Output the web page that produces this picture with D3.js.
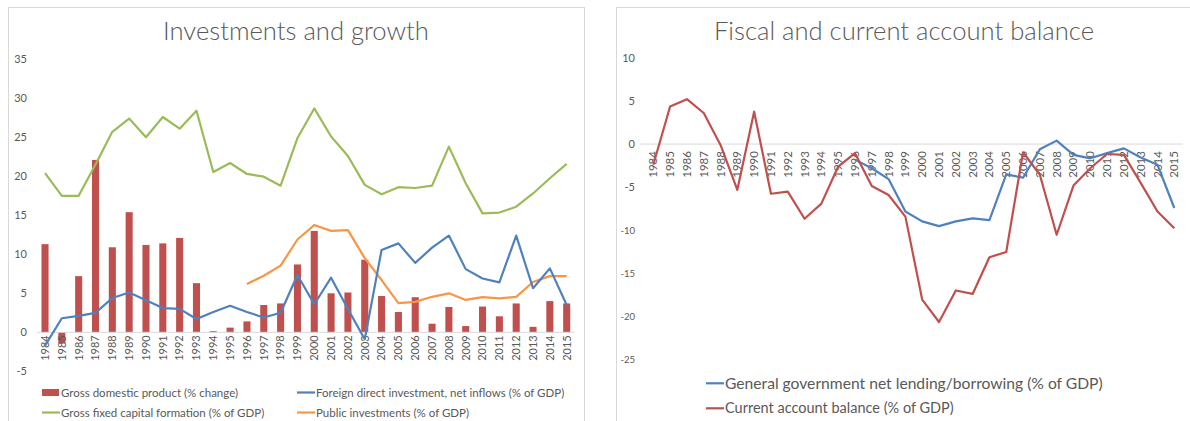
<!DOCTYPE html>
<html>
<head>
<meta charset="utf-8">
<script src="https://cdn.jsdelivr.net/npm/d3@7"></script>
<style>
  html, body { margin: 0; padding: 0; background: #fff; }
  svg { display: block; }
  text { font-family: Lato, "Open Sans", sans-serif; fill: #595959; }
  .title { font-weight: 300; }
</style>
</head>
<body>
<svg id="chart" width="1190" height="421"></svg>
<script>
// ---- data ----
const years = d3.range(1984, 2016).map(String);

const gdpGrowth = [11.3, -1.4, 7.2, 22.1, 10.9, 15.4, 11.2, 11.4, 12.1, 6.3,
  0.15, 0.6, 1.4, 3.5, 3.7, 8.7, 13.0, 5.0, 5.1, 9.3,
  4.65, 2.6, 4.5, 1.1, 3.25, 0.8, 3.3, 2.05, 3.7, 0.7, 4.0, 3.7];

const fdiInflows = [-1.7, 1.8, 2.1, 2.5, 4.4, 5.1, 4.1, 3.1, 3.0, 1.7,
  2.6, 3.4, 2.6, 1.9, 2.5, 7.35, 3.6, 7.0, 3.0, -0.9,
  10.55, 11.4, 8.9, 10.85, 12.4, 8.1, 6.9, 6.4, 12.4, 5.65, 8.2, 3.5];

const grossFixedCapital = [20.4, 17.5, 17.5, 21.5, 25.7, 27.4, 25.0, 27.6, 26.1, 28.4,
  20.55, 21.7, 20.3, 19.95, 18.8, 24.9, 28.7, 25.1, 22.6, 18.9,
  17.7, 18.6, 18.5, 18.8, 23.8, 19.1, 15.25, 15.35, 16.1, 17.8, 19.75, 21.6];

const publicInvestments = [null, null, null, null, null, null, null, null, null, null,
  null, null, 6.2, 7.25, 8.55, 11.9, 13.75, 13.0, 13.1, 9.5,
  6.7, 3.75, 3.9, 4.55, 5.0, 4.15, 4.5, 4.35, 4.55, 6.45, 7.2, 7.2];

const govNetLending = [null, null, null, null, null, null, null, null, null, null,
  null, null, -1.8, -2.8, -4.05, -7.8, -8.95, -9.5, -8.95, -8.6,
  -8.8, -3.5, -3.9, -0.6, 0.4, -1.25, -1.65, -1.05, -0.5, -1.55, -2.4, -7.4];

const currentAccount = [-2.4, 4.35, 5.2, 3.6, -0.1, -5.3, 3.75, -5.75, -5.5, -8.65,
  -6.9, -2.6, -1.05, -4.85, -5.9, -8.4, -18.0, -20.6, -16.95, -17.35,
  -13.1, -12.5, -0.95, -3.55, -10.5, -4.8, -2.8, -1.15, -1.25, -4.5, -7.8, -9.75];

const leftTicks = [-5, 0, 5, 10, 15, 20, 25, 30, 35];
const rightTicks = [-25, -20, -15, -10, -5, 0, 5, 10];

const COLORS = { red: "#C0504D", blue: "#4F81BD", green: "#9BBB59", orange: "#F79646" };

const svg = d3.select("#chart");

// panel frames
svg.append("rect").attr("x", 8.5).attr("y", 7.5).attr("width", 576).attr("height", 420)
  .attr("fill", "none").attr("stroke", "#D9D9D9");
svg.append("rect").attr("x", 616.5).attr("y", 7.5).attr("width", 590).attr("height", 420)
  .attr("fill", "none").attr("stroke", "#D9D9D9");

function fitText(sel, width) {
  const node = sel.node();
  const size = parseFloat(sel.attr("font-size"));
  const w = node.getComputedTextLength();
  sel.attr("font-size", (size * width / w).toFixed(2));
}

// ===== Left panel: Investments and growth =====
const xL = d3.scaleBand().domain(years).range([36.6, 575.1]);
const yL = d3.scaleLinear().domain([-5, 35]).range([371.3, 59.3]);

fitText(svg.append("text").attr("class", "title").attr("x", 296).attr("y", 40).attr("text-anchor", "middle")
  .attr("font-size", 22).text("Investments and growth"), 266);

// y tick labels
svg.append("g").selectAll("text").data(leftTicks).join("text")
  .attr("x", 27).attr("y", d => yL(d)).attr("dy", "0.35em").attr("text-anchor", "end")
  .attr("font-size", 11).text(d => d);

// bars
const barW = xL.bandwidth() * 0.42;
svg.append("g").selectAll("rect").data(years).join("rect")
  .attr("x", d => xL(d) + (xL.bandwidth() - barW) / 2)
  .attr("width", barW)
  .attr("y", (d, i) => yL(Math.max(0, gdpGrowth[i])))
  .attr("height", (d, i) => Math.abs(yL(gdpGrowth[i]) - yL(0)))
  .attr("fill", COLORS.red);

// zero axis line
svg.append("line").attr("x1", xL.range()[0]).attr("x2", xL.range()[1])
  .attr("y1", yL(0)).attr("y2", yL(0)).attr("stroke", "#D9D9D9").attr("stroke-width", 1);

// category labels
svg.append("g").selectAll("text").data(years).join("text")
  .attr("transform", d => `translate(${xL(d) + xL.bandwidth() / 2},${yL(0) + 3}) rotate(-90)`)
  .attr("text-anchor", "end").attr("dy", "0.35em").attr("font-size", 11).text(d => d);

function drawLine(xs, ys, values, color) {
  const line = d3.line()
    .defined(d => d.v !== null)
    .x(d => xs(d.year) + xs.bandwidth() / 2)
    .y(d => ys(d.v));
  svg.append("path")
    .datum(years.map((year, i) => ({ year, v: values[i] })))
    .attr("d", line).attr("fill", "none").attr("stroke", color)
    .attr("stroke-width", 2.2).attr("stroke-linejoin", "round");
}

drawLine(xL, yL, grossFixedCapital, COLORS.green);
drawLine(xL, yL, publicInvestments, COLORS.orange);
drawLine(xL, yL, fdiInflows, COLORS.blue);

// left legend
const legL = [
  { label: "Gross domestic product (% change)", color: COLORS.red, bar: true, x: 42, y: 392.5 },
  { label: "Foreign direct investment, net inflows (% of GDP)", color: COLORS.blue, x: 297, y: 392.5 },
  { label: "Gross fixed capital formation (% of GDP)", color: COLORS.green, x: 42, y: 412.5 },
  { label: "Public investments (% of GDP)", color: COLORS.orange, x: 297, y: 412.5 }
];
legL.forEach(d => {
  if (d.bar) {
    svg.append("rect").attr("x", d.x).attr("y", d.y - 3.5).attr("width", 17).attr("height", 7).attr("fill", d.color);
  } else {
    svg.append("line").attr("x1", d.x).attr("x2", d.x + 18).attr("y1", d.y).attr("y2", d.y)
      .attr("stroke", d.color).attr("stroke-width", 2.2);
  }
  svg.append("text").attr("x", d.x + 19).attr("y", d.y).attr("dy", "0.35em")
    .attr("font-size", 11.5).text(d.label);
});

// ===== Right panel: Fiscal and current account balance =====
const xR = d3.scaleBand().domain(years).range([644.9, 1182.7]);
const yR = d3.scaleLinear().domain([-25, 10]).range([360, 57.7]);

fitText(svg.append("text").attr("class", "title").attr("x", 904).attr("y", 40).attr("text-anchor", "middle")
  .attr("font-size", 22).text("Fiscal and current account balance"), 380);

svg.append("g").selectAll("text").data(rightTicks).join("text")
  .attr("x", 635).attr("y", d => yR(d)).attr("dy", "0.35em").attr("text-anchor", "end")
  .attr("font-size", d => d <= -10 ? 9.5 : 11).text(d => d);

svg.append("line").attr("x1", 640).attr("x2", xR.range()[1])
  .attr("y1", yR(0)).attr("y2", yR(0)).attr("stroke", "#D9D9D9").attr("stroke-width", 1);

svg.append("g").selectAll("text").data(years).join("text")
  .attr("transform", d => `translate(${xR(d) + xR.bandwidth() / 2},${yR(0) + 7}) rotate(-90)`)
  .attr("text-anchor", "end").attr("dy", "0.35em").attr("font-size", 11.5).text(d => d);

drawLine(xR, yR, govNetLending, COLORS.blue);
drawLine(xR, yR, currentAccount, COLORS.red);

const legR = [
  { label: "General government net lending/borrowing (% of GDP)", color: COLORS.blue, y: 383.3 },
  { label: "Current account balance (% of GDP)", color: COLORS.red, y: 408.3 }
];
legR.forEach((d, i) => {
  svg.append("line").attr("x1", 706).attr("x2", 724).attr("y1", d.y).attr("y2", d.y)
    .attr("stroke", d.color).attr("stroke-width", 2.2);
  const t = svg.append("text").attr("x", 725).attr("y", d.y).attr("dy", "0.35em")
    .attr("font-size", 14.5).text(d.label);
  if (i === 0) fitText(t, 378);
});
</script>
</body>
</html>
